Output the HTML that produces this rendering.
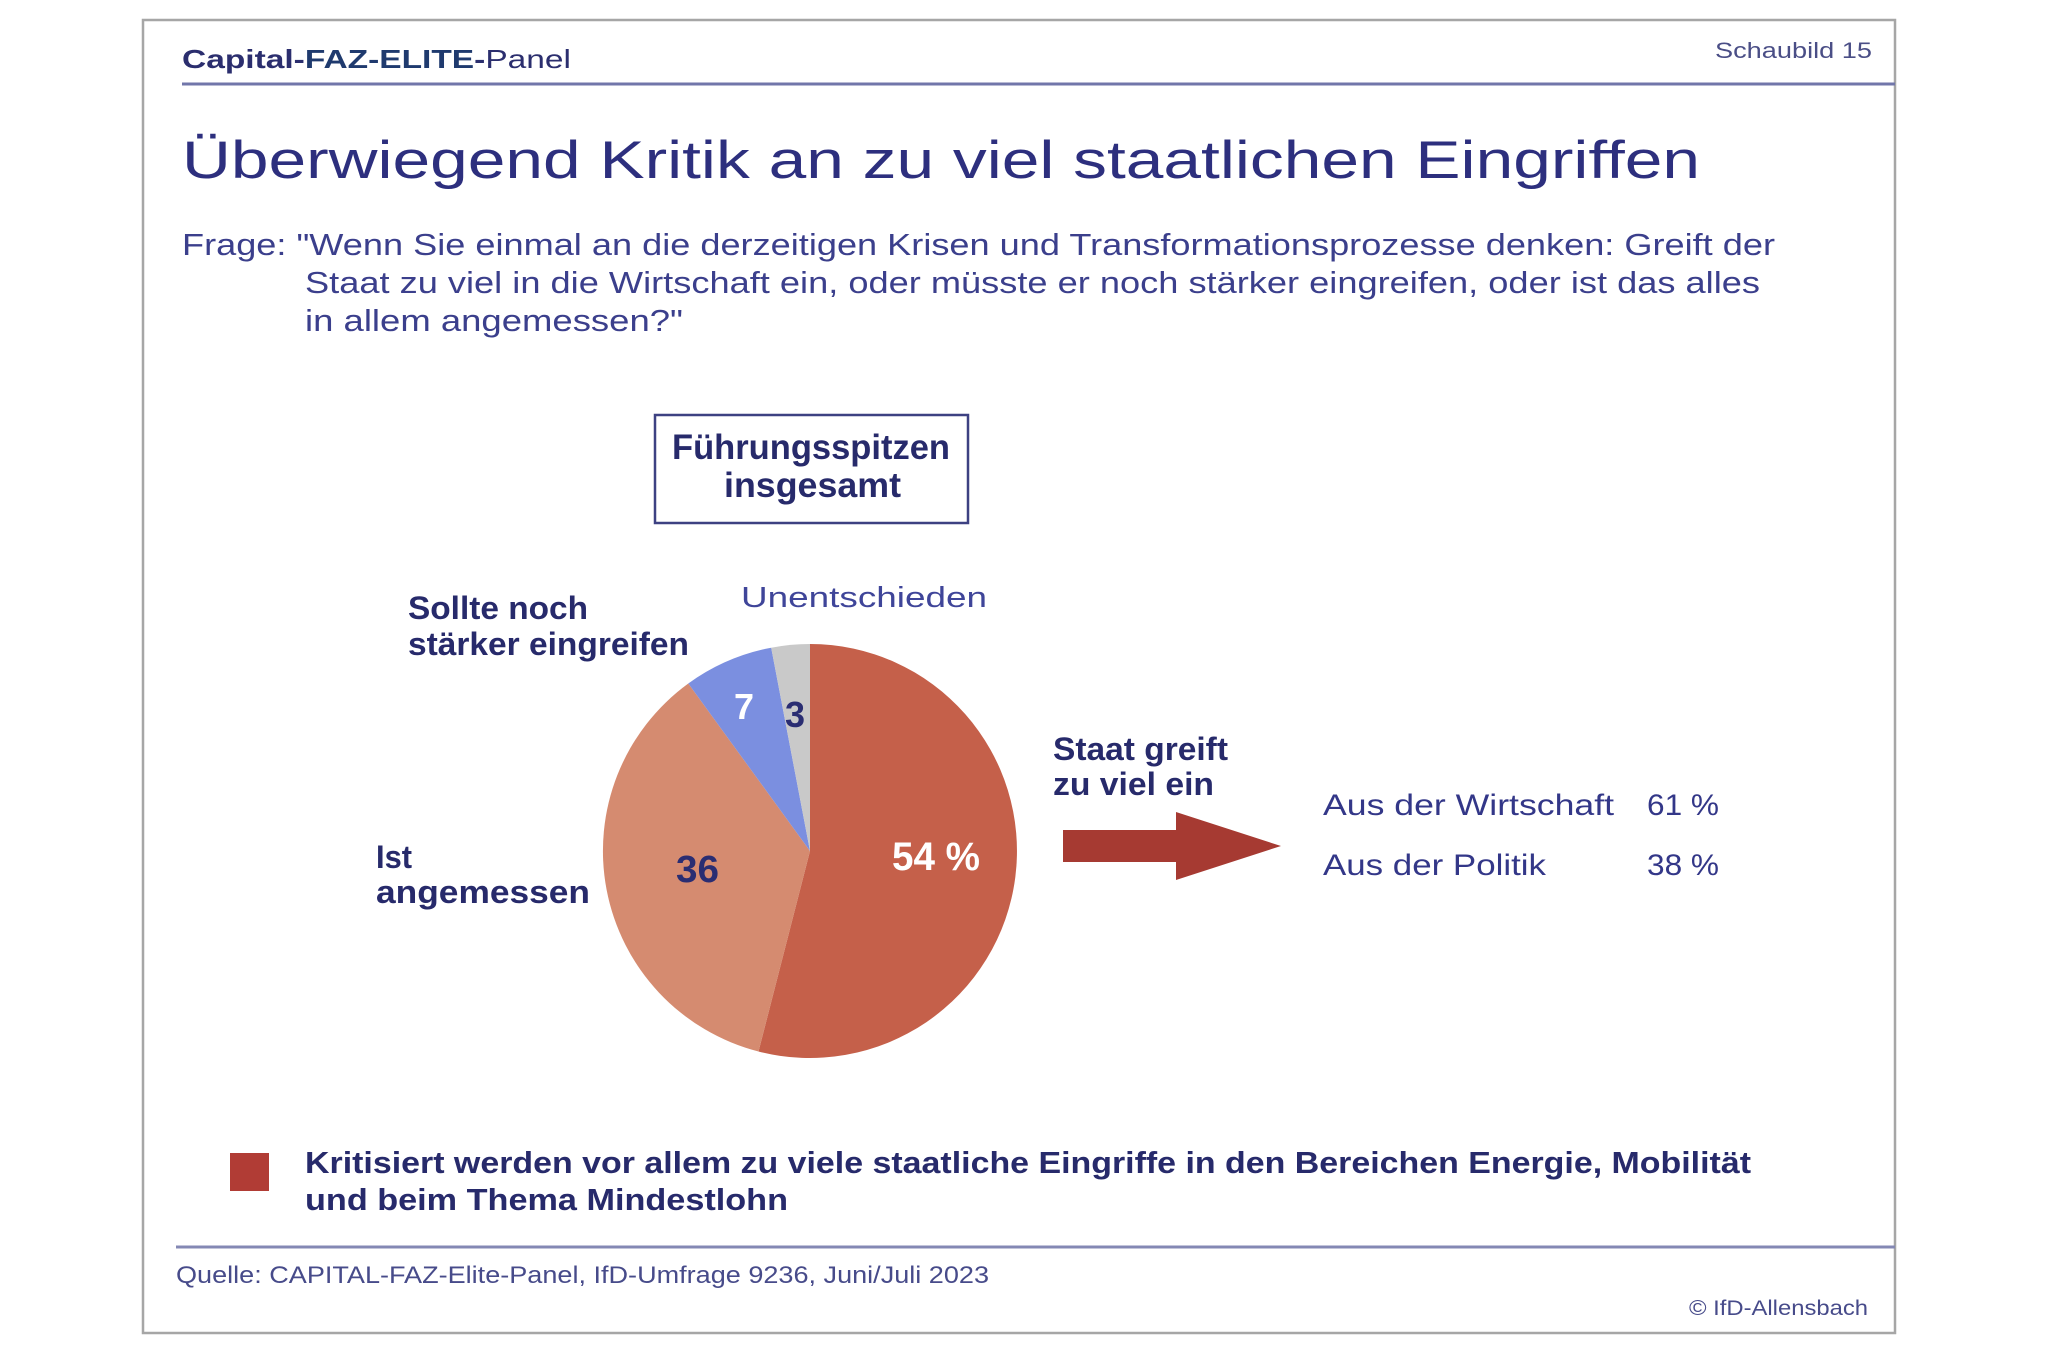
<!DOCTYPE html>
<html>
<head>
<meta charset="utf-8">
<style>
html,body{margin:0;padding:0;background:#fff;}
svg{display:block;}
text{font-family:"Liberation Sans", "DejaVu Sans", sans-serif;}
</style>
</head>
<body>
<svg width="2048" height="1363" viewBox="0 0 2048 1363" xmlns="http://www.w3.org/2000/svg">
<rect x="0" y="0" width="2048" height="1363" fill="#ffffff"/>
<!-- frame -->
<rect x="143" y="20" width="1752" height="1313" fill="none" stroke="#a6a6a6" stroke-width="2.5"/>

<!-- header -->
<text x="182" y="68" font-size="26" fill="#2b2e6e" textLength="389" lengthAdjust="spacingAndGlyphs"><tspan font-weight="bold">Capital-</tspan><tspan font-weight="bold" fill="#1f3a6e">FAZ-ELITE</tspan><tspan font-weight="bold">-</tspan><tspan>Panel</tspan></text>
<text x="1715" y="58" font-size="22" fill="#4a4e86" textLength="157" lengthAdjust="spacingAndGlyphs">Schaubild  15</text>
<line x1="182" y1="84" x2="1895" y2="84" stroke="#7176aa" stroke-width="3"/>

<!-- title -->
<text x="182" y="178" font-size="53" fill="#2d2f7e" textLength="1518" lengthAdjust="spacingAndGlyphs">Überwiegend Kritik an zu viel staatlichen Eingriffen</text>

<!-- question -->
<g font-size="31" fill="#3b3f8c">
<text x="182" y="255" textLength="1593" lengthAdjust="spacingAndGlyphs">Frage: "Wenn Sie einmal an die derzeitigen Krisen und Transformationsprozesse denken: Greift der</text>
<text x="305" y="293" textLength="1455" lengthAdjust="spacingAndGlyphs">Staat zu viel in die Wirtschaft ein, oder müsste er noch stärker eingreifen, oder ist das alles</text>
<text x="305" y="331" textLength="378" lengthAdjust="spacingAndGlyphs">in allem angemessen?"</text>
</g>

<!-- box -->
<rect x="655" y="415" width="313" height="108" fill="none" stroke="#3d4182" stroke-width="2.5"/>
<g font-size="35" font-weight="bold" fill="#272a6b">
<text x="672" y="459" textLength="278" lengthAdjust="spacingAndGlyphs">Führungsspitzen</text>
<text x="724" y="497" textLength="177" lengthAdjust="spacingAndGlyphs">insgesamt</text>
</g>

<!-- pie -->
<path d="M810,851 L810,644 A207,207 0 1 1 758.5,1051.5 Z" fill="#c5604a"/>
<path d="M810,851 L758.5,1051.5 A207,207 0 0 1 688.3,683.5 Z" fill="#d58b70"/>
<path d="M810,851 L688.3,683.5 A207,207 0 0 1 771.2,647.7 Z" fill="#7b8fe0"/>
<path d="M810,851 L771.2,647.7 A207,207 0 0 1 810,644 Z" fill="#c9c9c9"/>

<!-- pie values -->
<text x="892" y="870" font-size="40" font-weight="bold" fill="#ffffff" textLength="88" lengthAdjust="spacingAndGlyphs">54 %</text>
<text x="676" y="882" font-size="38" font-weight="bold" fill="#2a2d72" textLength="43" lengthAdjust="spacingAndGlyphs">36</text>
<text x="744" y="719" font-size="36" font-weight="bold" fill="#ffffff" text-anchor="middle">7</text>
<text x="795" y="727" font-size="36" font-weight="bold" fill="#2a2d72" text-anchor="middle">3</text>

<!-- pie labels -->
<g font-size="32" font-weight="bold" fill="#272a6b">
<text x="408" y="619" textLength="180" lengthAdjust="spacingAndGlyphs">Sollte noch</text>
<text x="408" y="655" textLength="281" lengthAdjust="spacingAndGlyphs">stärker eingreifen</text>
<text x="376" y="868" textLength="36" lengthAdjust="spacingAndGlyphs">Ist</text>
<text x="376" y="903" textLength="214" lengthAdjust="spacingAndGlyphs">angemessen</text>
<text x="1053" y="760" textLength="175" lengthAdjust="spacingAndGlyphs">Staat greift</text>
<text x="1053" y="795" textLength="161" lengthAdjust="spacingAndGlyphs">zu viel ein</text>
</g>
<text x="741" y="607" font-size="29" fill="#3f4599" textLength="246" lengthAdjust="spacingAndGlyphs">Unentschieden</text>

<!-- arrow -->
<polygon points="1063,830 1176,830 1176,812 1281,846 1176,880 1176,862 1063,862" fill="#a63a32"/>

<!-- right stats -->
<g font-size="30" fill="#333788">
<text x="1323" y="815" textLength="291" lengthAdjust="spacingAndGlyphs">Aus der Wirtschaft</text>
<text x="1647" y="815" textLength="72" lengthAdjust="spacingAndGlyphs">61 %</text>
<text x="1323" y="875" textLength="223" lengthAdjust="spacingAndGlyphs">Aus der Politik</text>
<text x="1647" y="875" textLength="72" lengthAdjust="spacingAndGlyphs">38 %</text>
</g>

<!-- bottom note -->
<rect x="230" y="1153" width="39" height="38" fill="#b13c35"/>
<g font-size="31" font-weight="bold" fill="#272a6b">
<text x="305" y="1173" textLength="1446" lengthAdjust="spacingAndGlyphs">Kritisiert werden vor allem zu viele staatliche Eingriffe in den Bereichen Energie, Mobilität</text>
<text x="305" y="1210" textLength="483" lengthAdjust="spacingAndGlyphs">und beim Thema Mindestlohn</text>
</g>

<line x1="176" y1="1247" x2="1895" y2="1247" stroke="#8488b4" stroke-width="3"/>

<text x="176" y="1283" font-size="24" fill="#474b8a" textLength="813" lengthAdjust="spacingAndGlyphs">Quelle: CAPITAL-FAZ-Elite-Panel, IfD-Umfrage 9236, Juni/Juli 2023</text>
<text x="1689" y="1315" font-size="21" fill="#474b8a" textLength="179" lengthAdjust="spacingAndGlyphs">© IfD-Allensbach</text>
</svg>
</body>
</html>
